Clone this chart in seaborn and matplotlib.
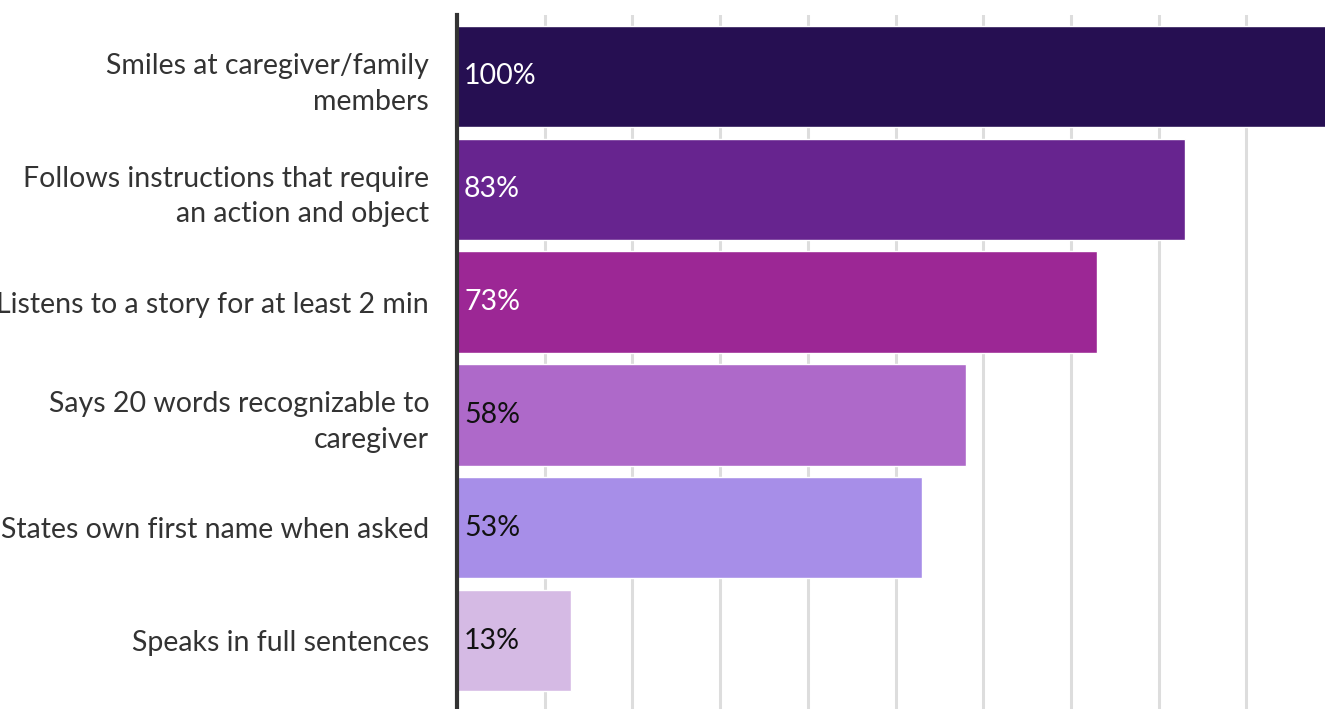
import matplotlib
matplotlib.use("Agg")
import matplotlib.pyplot as plt
import seaborn as sns
import pandas as pd

categories = [
    "Smiles at caregiver/family\nmembers",
    "Follows instructions that require\nan action and object",
    "Listens to a story for at least 2 min",
    "Says 20 words recognizable to\ncaregiver",
    "States own first name when asked",
    "Speaks in full sentences",
]
values = [100, 83, 73, 58, 53, 13]
labels = ["100%", "83%", "73%", "58%", "53%", "13%"]
colors = ["#260F52", "#67248F", "#9C2795", "#AE69C9", "#A78EE8", "#D5BAE4"]
label_colors = ["white", "white", "white", "#111111", "#111111", "#111111"]

sns.set_theme(style="white")
plt.rcParams["font.family"] = ["Lato", "DejaVu Sans"]

df = pd.DataFrame({"cat": categories, "val": values})

fig = plt.figure(figsize=(13.25, 7.09), dpi=100)
ax = fig.add_axes([457 / 1325, 0.0, (1334 - 457) / 1325, 1 - 15 / 709])

sns.barplot(data=df, x="val", y="cat", hue="cat", palette=colors, legend=False,
            orient="h", width=0.9, ax=ax, zorder=2, saturation=1)

ax.set_xlim(0, 100)
ax.set_ylim(5.607, -0.545)
ax.set_xticks(range(0, 101, 10))
ax.set_xticklabels([])
ax.xaxis.grid(True, color="#dddddd", linewidth=2.2, zorder=0)
ax.yaxis.grid(False)
ax.set_axisbelow(True)
ax.set_xlabel("")
ax.set_ylabel("")
for s in ["top", "right", "bottom"]:
    ax.spines[s].set_visible(False)
ax.spines["left"].set_color("#333333")
ax.spines["left"].set_linewidth(3)
ax.spines["left"].set_zorder(5)
ax.tick_params(axis="y", length=0, pad=20, labelsize=20.5, labelcolor="#333333")
ax.tick_params(axis="x", length=0)
for t in ax.get_yticklabels():
    t.set_linespacing(1.46)
    t.set_horizontalalignment("right")

for patch, lab, lc in zip(ax.patches, labels, label_colors):
    y = patch.get_y() + patch.get_height() / 2
    ax.text(patch.get_x() + 0.8, y, lab, ha="left", va="center",
            fontsize=20.5, color=lc, zorder=6)

fig.savefig("out.png", dpi=100)
